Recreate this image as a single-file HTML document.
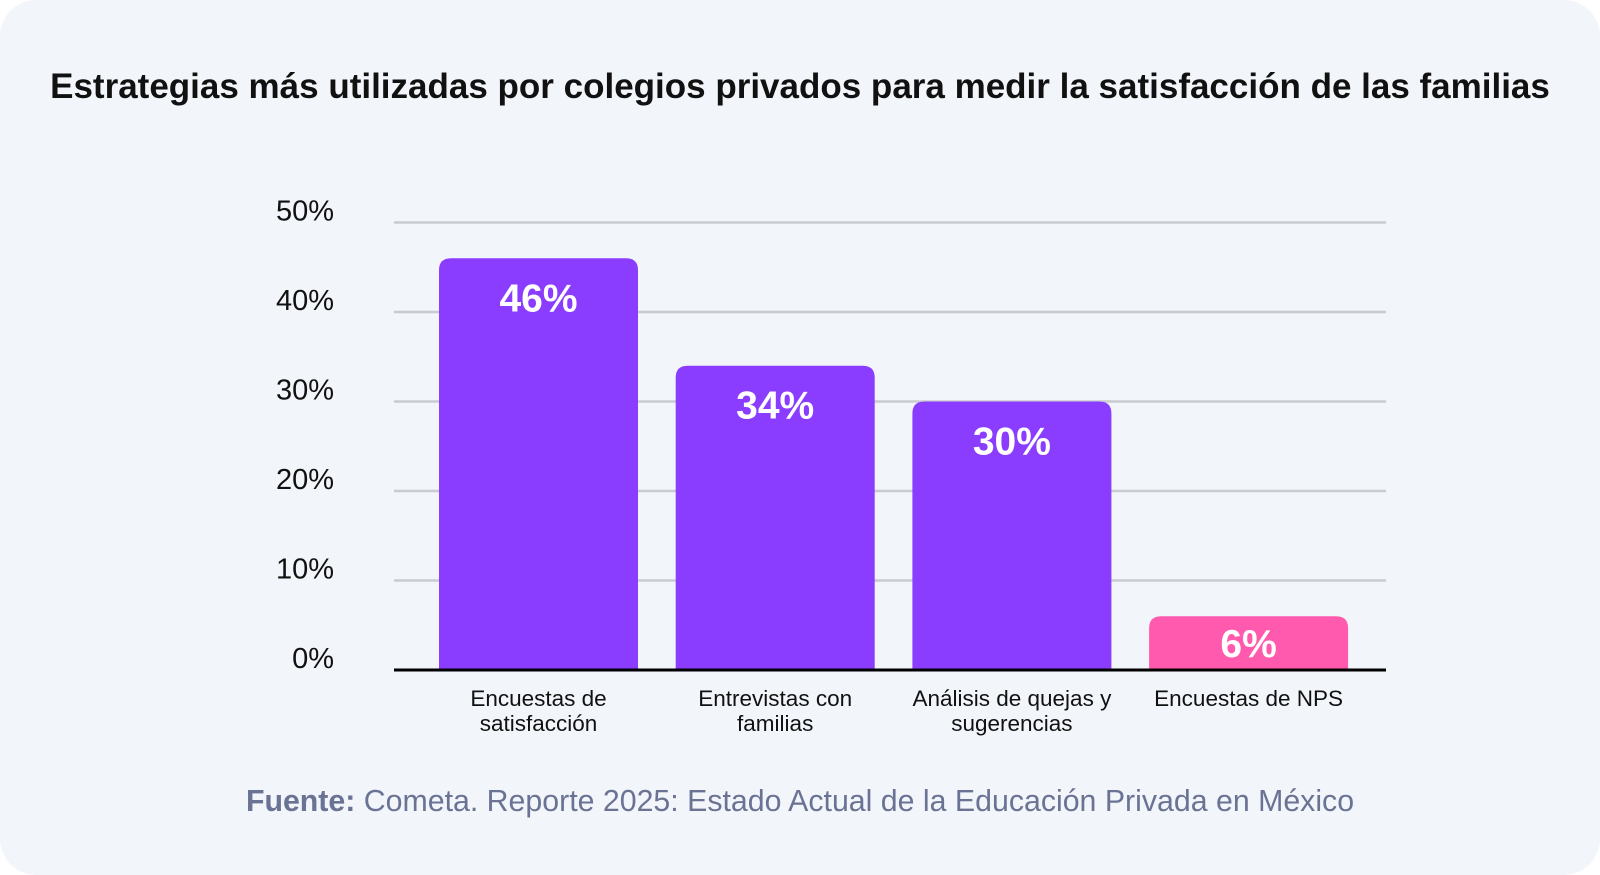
<!DOCTYPE html>
<html><head><meta charset="utf-8"><style>
html,body{margin:0;padding:0;background:#fff;}
#card{position:absolute;left:0;top:0;width:1600px;height:875px;background:#f2f5fa;border-radius:36px;overflow:hidden;font-family:"Liberation Sans",sans-serif;}
svg{position:absolute;left:0;top:0;}
</style></head><body>
<div id="card">
<svg id="chart" width="1600" height="875"></svg>
</div>
<script>
const categories=[["Encuestas de","satisfacción"],["Entrevistas  con","familias"],["Análisis de quejas y","sugerencias"],["Encuestas de NPS"]];
const values=[46,34,30,6];
const labels=["46%","34%","30%","6%"];
const colors=["#8a3cff","#8a3cff","#8a3cff","#ff5aad"];
const ticks=[0,10,20,30,40,50];
const tickLabels=["0%","10%","20%","30%","40%","50%"];
const NS="http://www.w3.org/2000/svg";
const svg=document.getElementById('chart');
const x0=394,x1=1386,yBase=670,pxPer=8.95;
const y=v=>yBase-v*pxPer;
const bandStart=439,bandStep=236.7,barW=199;
function mk(t,a,txt){const e=document.createElementNS(NS,t);for(const k in a)e.setAttribute(k,a[k]);if(txt!==undefined)e.textContent=txt;svg.appendChild(e);return e;}
let e=mk('text',{x:800,y:98,'text-anchor':'middle','font-size':'35','font-weight':'bold',fill:'#111'},'Estrategias más utilizadas por colegios privados para medir la satisfacción de las familias');


ticks.forEach((t,i)=>{
 if(t>0){const g=mk('line',{x1:x0,x2:x1,y1:y(t),y2:y(t),stroke:'#c9cbd1','stroke-width':2.5});
 
 }
 const l=mk('text',{x:334,y:y(t)-2,'text-anchor':'end','font-size':'29',fill:'#111'},tickLabels[i]);
 
 
});
values.forEach((v,i)=>{
 const bx=bandStart+i*bandStep,top=y(v),r=12;
 const p=mk('path',{d:`M${bx},${yBase}V${top+r}Q${bx},${top} ${bx+r},${top}H${bx+barW-r}Q${bx+barW},${top} ${bx+barW},${top+r}V${yBase}Z`,fill:colors[i]});
 
 
 const ly=Math.min(top+53,(top+yBase)/2+14);
 const t=mk('text',{x:bx+barW/2,y:ly,'text-anchor':'middle','font-size':'39','font-weight':'bold',fill:'#fff'},labels[i]);
 
 
 categories[i].forEach((ln,j)=>{
  const c=mk('text',{x:bx+barW/2,y:706+j*25,'text-anchor':'middle','font-size':'22.5',fill:'#111','xml:space':'preserve'},ln);
  
  
 });
});
e=mk('line',{x1:x0,x2:x1,y1:yBase,y2:yBase,stroke:'#000','stroke-width':3});


e=mk('text',{x:800,y:811,'text-anchor':'middle','font-size':'30.3',fill:'#6b7394'});


e.innerHTML='<tspan font-weight="bold">Fuente:</tspan> Cometa. Reporte 2025: Estado Actual de la Educación Privada en México';
</script>
</body></html>
